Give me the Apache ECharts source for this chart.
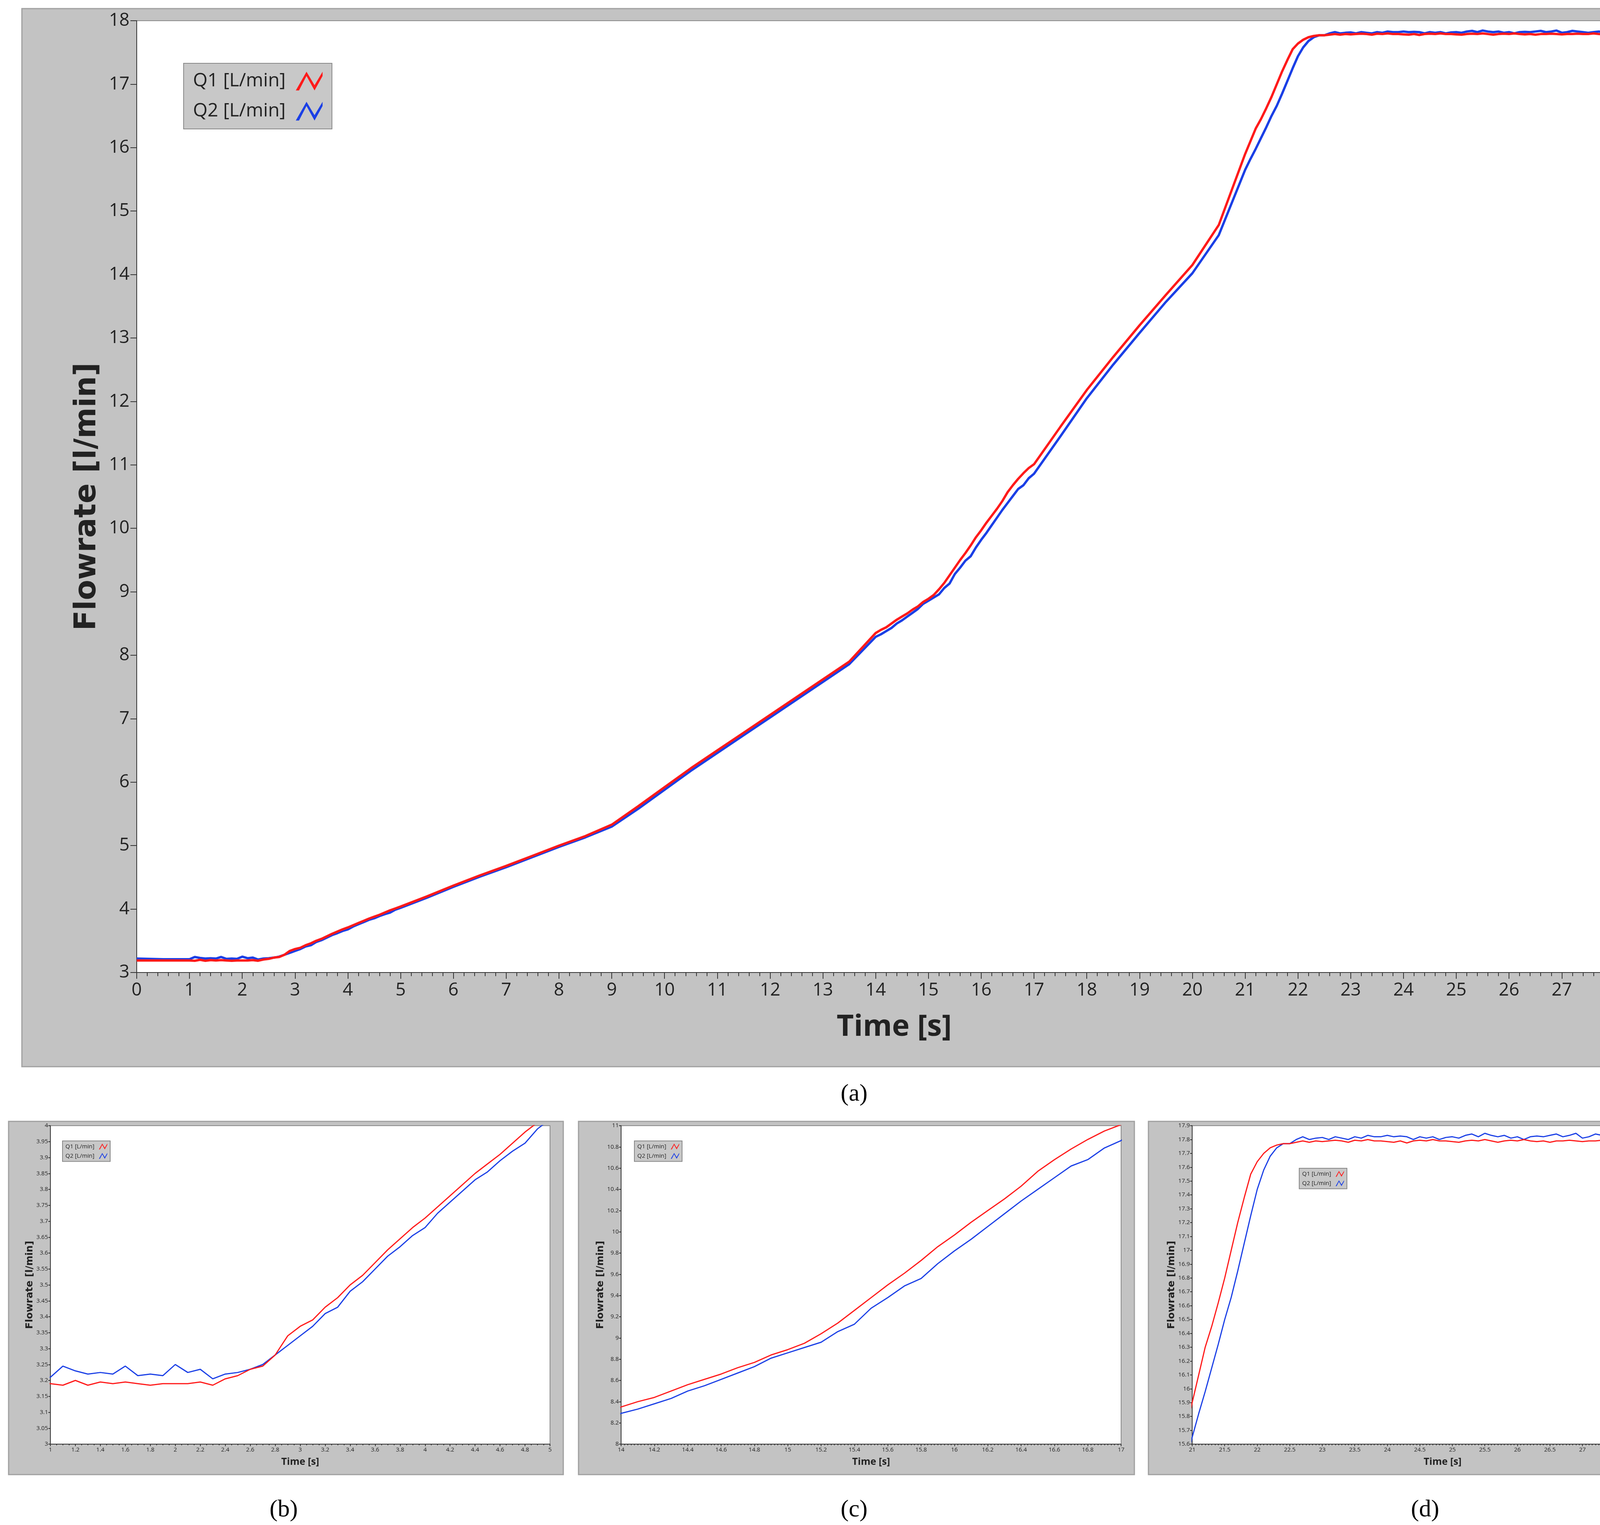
<!DOCTYPE html>
<html>
<head>
<meta charset="utf-8">
<script src="https://cdn.jsdelivr.net/npm/echarts@6/dist/echarts.min.js"></script>
<style>
html, body { margin: 0; padding: 0; background: #fff; overflow: hidden; }
#chart { width: 4368px; height: 3903px; }
</style>
</head>
<body>
<div id="chart"></div>
<script>
// time [s]
var time = [0, 0.5,
	1.0, 1.1, 1.2, 1.3, 1.4, 1.5, 1.6, 1.7, 1.8, 1.9, 2.0, 2.1, 2.2, 2.3, 2.4, 2.5, 2.6, 2.7, 2.8, 2.9,
	3.0, 3.1, 3.2, 3.3, 3.4, 3.5, 3.6, 3.7, 3.8, 3.9, 4.0, 4.1, 4.2, 4.3, 4.4, 4.5, 4.6, 4.7, 4.8, 4.9, 5.0,
	5.5, 6, 6.5, 7, 7.5, 8, 8.5, 9, 9.5, 10, 10.5, 11, 11.5, 12, 12.5, 13, 13.5,
	14.0, 14.1, 14.2, 14.3, 14.4, 14.5, 14.6, 14.7, 14.8, 14.9, 15.0, 15.1, 15.2, 15.3, 15.4, 15.5, 15.6, 15.7, 15.8, 15.9,
	16.0, 16.1, 16.2, 16.3, 16.4, 16.5, 16.6, 16.7, 16.8, 16.9, 17.0,
	17.5, 18, 18.5, 19, 19.5, 20, 20.5,
	21.0, 21.1, 21.2, 21.3, 21.4, 21.5, 21.6, 21.7, 21.8, 21.9, 22.0, 22.1, 22.2, 22.3, 22.4, 22.5, 22.6,
	22.7, 22.8, 22.9, 23.0, 23.1, 23.2, 23.3, 23.4, 23.5, 23.6, 23.7, 23.8, 23.9, 24.0, 24.1, 24.2, 24.3, 24.4, 24.5, 24.6,
	24.7, 24.8, 24.9, 25.0, 25.1, 25.2, 25.3, 25.4, 25.5, 25.6, 25.7, 25.8, 25.9, 26.0, 26.1, 26.2, 26.3, 26.4, 26.5, 26.6,
	26.7, 26.8, 26.9, 27.0, 27.1, 27.2, 27.3, 27.4, 27.5, 27.6, 27.7, 27.8, 27.9, 28.0, 28.1, 28.2, 28.3, 28.4, 28.5, 28.6, 28.7];

// Q1 [L/min]
var q1 = [3.19, 3.19,
	3.19, 3.185, 3.20, 3.185, 3.195, 3.19, 3.195, 3.19, 3.185, 3.19, 3.19, 3.19, 3.195, 3.185, 3.205, 3.215, 3.235, 3.245, 3.28, 3.34,
	3.37, 3.39, 3.43, 3.46, 3.50, 3.53, 3.57, 3.61, 3.645, 3.68, 3.71, 3.745, 3.78, 3.815, 3.85, 3.88, 3.91, 3.945, 3.98, 4.01, 4.04,
	4.20, 4.37, 4.53, 4.68, 4.84, 5.00, 5.15, 5.33, 5.62, 5.92, 6.22, 6.50, 6.78, 7.06, 7.34, 7.62, 7.90,
	8.35, 8.40, 8.44, 8.50, 8.56, 8.61, 8.66, 8.72, 8.77, 8.84, 8.89, 8.95, 9.04, 9.14, 9.26, 9.38, 9.50, 9.61, 9.73, 9.86,
	9.97, 10.09, 10.20, 10.31, 10.43, 10.57, 10.68, 10.78, 10.87, 10.95, 11.01,
	11.60, 12.18, 12.70, 13.20, 13.68, 14.15, 14.78,
	15.90, 16.10, 16.30, 16.45, 16.62, 16.80, 17.00, 17.20, 17.38, 17.55, 17.64, 17.70, 17.74, 17.76, 17.77, 17.77, 17.78,
	17.79, 17.78, 17.79, 17.785, 17.79, 17.795, 17.79, 17.78, 17.795, 17.79, 17.80, 17.79, 17.79, 17.785, 17.78, 17.79, 17.775, 17.79, 17.795, 17.79,
	17.80, 17.79, 17.79, 17.785, 17.78, 17.79, 17.795, 17.79, 17.80, 17.79, 17.78, 17.79, 17.795, 17.79, 17.80, 17.79, 17.785, 17.79, 17.78, 17.79,
	17.79, 17.795, 17.79, 17.785, 17.79, 17.79, 17.795, 17.79, 17.79, 17.80, 17.79, 17.785, 17.79, 17.795, 17.80, 17.785, 17.78, 17.79, 17.79, 17.795, 17.79];

// Q2 [L/min]
var q2 = [3.22, 3.21,
	3.21, 3.245, 3.23, 3.22, 3.225, 3.22, 3.245, 3.215, 3.22, 3.215, 3.25, 3.225, 3.235, 3.205, 3.22, 3.225, 3.235, 3.25, 3.28, 3.31,
	3.34, 3.37, 3.41, 3.43, 3.48, 3.51, 3.55, 3.59, 3.62, 3.655, 3.68, 3.725, 3.76, 3.795, 3.83, 3.855, 3.89, 3.92, 3.945, 3.99, 4.02,
	4.18, 4.35, 4.51, 4.66, 4.82, 4.98, 5.13, 5.30, 5.58, 5.88, 6.18, 6.46, 6.74, 7.02, 7.30, 7.58, 7.86,
	8.29, 8.33, 8.38, 8.43, 8.50, 8.55, 8.61, 8.67, 8.73, 8.81, 8.86, 8.91, 8.96, 9.06, 9.13, 9.28, 9.38, 9.49, 9.56, 9.70,
	9.82, 9.93, 10.05, 10.17, 10.29, 10.40, 10.51, 10.62, 10.68, 10.79, 10.86,
	11.45, 12.05, 12.58, 13.08, 13.57, 14.02, 14.62,
	15.65, 15.82, 15.98, 16.15, 16.32, 16.50, 16.66, 16.85, 17.05, 17.25, 17.44, 17.58, 17.68, 17.74, 17.77, 17.77, 17.80,
	17.82, 17.80, 17.81, 17.815, 17.80, 17.82, 17.81, 17.80, 17.82, 17.81, 17.83, 17.82, 17.82, 17.83, 17.82, 17.825, 17.82, 17.80, 17.82, 17.81,
	17.82, 17.80, 17.815, 17.82, 17.81, 17.83, 17.84, 17.82, 17.845, 17.83, 17.82, 17.83, 17.81, 17.82, 17.80, 17.82, 17.825, 17.82, 17.83, 17.84,
	17.82, 17.83, 17.845, 17.81, 17.82, 17.84, 17.83, 17.82, 17.81, 17.82, 17.83, 17.82, 17.835, 17.81, 17.83, 17.82, 17.82, 17.83, 17.82, 17.83, 17.835];

var seriesNames = ['Q1 [L/min]', 'Q2 [L/min]'];
var captions = ['(a)', '(b)', '(c)', '(d)'];

var q1Data = time.map(function (t, i) { return [t, q1[i]]; });
var q2Data = time.map(function (t, i) { return [t, q2[i]]; });

// panel layout: frame, plot area, axis ranges
var panels = [
	{ frame: [56, 22, 4276, 2708], grid: [350, 53, 3878, 2436], xMin: 0, xMax: 28.7, xInt: 1, yMin: 3, yMax: 18, yInt: 1,
		xMinor: 5, font: 46, title: 76, lw: 6, legend: [470, 162], lfont: 48, cap: [2192, 2800] },
	{ frame: [22, 2870, 1420, 904], grid: [129, 2881, 1279, 815], xMin: 1, xMax: 5, xInt: 0.2, yMin: 3, yMax: 4, yInt: 0.05,
		xMinor: 4, font: 15, title: 25, lw: 3, legend: [160, 2920], lfont: 15, cap: [730, 3864] },
	{ frame: [1481, 2870, 1423, 904], grid: [1590, 2881, 1280, 815], xMin: 14, xMax: 17, xInt: 0.2, yMin: 8, yMax: 11, yInt: 0.2,
		xMinor: 10, font: 15, title: 25, lw: 3, legend: [1624, 2920], lfont: 15, cap: [2192, 3864] },
	{ frame: [2940, 2870, 1422, 904], grid: [3052, 2881, 1282, 815], xMin: 21, xMax: 28.7, xInt: 0.5, yMin: 15.6, yMax: 17.9, yInt: 0.1,
		xMinor: 10, font: 15, title: 25, lw: 3, legend: [3326, 2990], lfont: 15, cap: [3652, 3864] }
];

var chart = echarts.init(document.getElementById('chart'));
var option = { backgroundColor: '#ffffff', animation: false, grid: [], xAxis: [], yAxis: [], series: [], legend: [], graphic: [] };

function fmt(v) { return String(+v.toFixed(2)); }

// zigzag legend glyph like the LabVIEW plot legend
var zigzag = 'path://M0,9 L4,2 L7,7 L10,2 L10,3.6 L7,9 L4,3.6 L1.2,9 Z';

panels.forEach(function (p, i) {
	// gray LabVIEW-style frame
	option.graphic.push({ type: 'rect', z: -10, shape: { x: p.frame[0], y: p.frame[1], width: p.frame[2], height: p.frame[3] },
		style: { fill: '#c3c3c3', stroke: '#a0a0a0', lineWidth: 3 } });
	option.graphic.push({ type: 'text', left: p.cap[0] - 40, top: p.cap[1] - 30,
		style: { text: captions[i], font: '62px "Liberation Serif"', fill: '#000' } });

	option.grid.push({ left: p.grid[0], top: p.grid[1], width: p.grid[2], height: p.grid[3], show: true,
		backgroundColor: '#ffffff', borderColor: '#8a8a8a', borderWidth: 2 });
	option.xAxis.push({
		type: 'value', gridIndex: i, min: p.xMin, max: p.xMax, interval: p.xInt,
		name: 'Time [s]', nameLocation: 'middle', nameGap: p.title * 1.35,
		nameTextStyle: { fontSize: p.title, fontWeight: 'bold', color: '#222', fontFamily: 'Open Sans' },
		axisLine: { lineStyle: { color: '#333', width: 2 } },
		axisTick: { length: p.font * 0.35, lineStyle: { color: '#333', width: 2 } },
		minorTick: { show: true, splitNumber: p.xMinor, length: p.font * 0.2, lineStyle: { color: '#333', width: 2 } },
		axisLabel: { fontSize: p.font, color: '#222', fontFamily: 'Open Sans', formatter: fmt, showMaxLabel: true, margin: p.font * 0.5 },
		splitLine: { show: false }
	});
	option.yAxis.push({
		type: 'value', gridIndex: i, min: p.yMin, max: p.yMax, interval: p.yInt,
		name: 'Flowrate [l/min]', nameLocation: 'middle', nameGap: p.font * (i === 0 ? 1.9 : 2.3),
		nameTextStyle: { fontSize: p.title, fontWeight: 'bold', color: '#222', fontFamily: 'DejaVu Sans' },
		axisLine: { lineStyle: { color: '#333', width: 2 } },
		axisTick: { length: p.font * 0.35, lineStyle: { color: '#333', width: 2 } },
		axisLabel: { fontSize: p.font, color: '#222', fontFamily: 'Open Sans', formatter: fmt, margin: p.font * 0.4 },
		splitLine: { show: false }
	});
	option.series.push({ name: seriesNames[0], type: 'line', xAxisIndex: i, yAxisIndex: i, data: q1Data,
		showSymbol: false, clip: true, z: 3, lineStyle: { color: '#ff1a1a', width: p.lw }, itemStyle: { color: '#ff1a1a' } });
	option.series.push({ name: seriesNames[1], type: 'line', xAxisIndex: i, yAxisIndex: i, data: q2Data,
		showSymbol: false, clip: true, z: 2, lineStyle: { color: '#1a3fe6', width: p.lw }, itemStyle: { color: '#1a3fe6' } });
	option.legend.push({
		data: seriesNames, orient: 'vertical', left: p.legend[0], top: p.legend[1], align: 'right',
		icon: zigzag, itemStyle: { borderWidth: 0 },
		backgroundColor: '#c8c8c8', borderColor: '#888', borderWidth: 2, padding: [p.lfont * 0.45, p.lfont * 0.5],
		itemGap: p.lfont * 0.6, itemWidth: p.lfont * 1.5, itemHeight: p.lfont * 1.0,
		textStyle: { fontSize: p.lfont, color: '#222', fontFamily: 'Open Sans', padding: [0, p.lfont * 0.4, 0, 0] }
	});
});

chart.setOption(option);
</script>
</body>
</html>
